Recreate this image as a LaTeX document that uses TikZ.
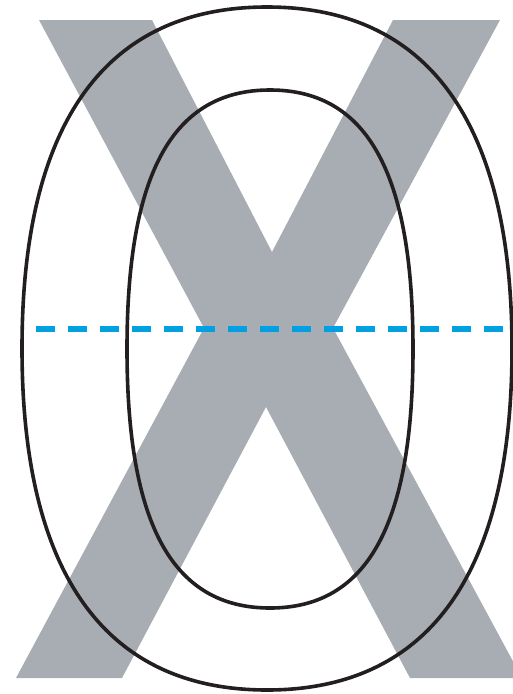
\documentclass[tikz,border=0pt]{standalone}
\usepackage{tikz}
\usepackage{xcolor}

\definecolor{xgray}{HTML}{A7ADB3}
\definecolor{oblack}{HTML}{231F20}
\definecolor{midblue}{HTML}{00A0E3}

\begin{document}
\begin{tikzpicture}[x=1pt, y=-1pt,
    ring/.style = {draw=oblack, line width=3.6pt},
    midline/.style = {draw=midblue, line width=6pt, dash pattern=on 19pt off 13pt}]

        \useasboundingbox (0,0) rectangle (513,694);
        \clip (0,0) rectangle (513,694);

        % the letter X
        \fill[xgray] (39,20) -- (152,20) -- (272,252) -- (393,20) -- (500,20) -- (333,328)
            -- (522,678) -- (410,678) -- (266,407) -- (122,678) -- (16,678) -- (204,328) -- cycle;

        % outer contour of the O
        \draw[ring] (512,348.5) .. controls (512,123.1) and (428.7,7) .. (267,7)
            .. controls (105.3,7) and (22,123.1) .. (22,348.5)
            .. controls (22,573.9) and (105.3,690) .. (267,690)
            .. controls (428.7,690) and (512,573.9) .. (512,348.5) -- cycle;

        % inner contour of the O
        \draw[ring] (413,349) .. controls (413,172.9) and (367.2,90) .. (270,90)
            .. controls (172.8,90) and (127,172.9) .. (127,349)
            .. controls (127,525.1) and (172.8,608) .. (270,608)
            .. controls (367.2,608) and (413,525.1) .. (413,349) -- cycle;

        % middle line
        \coordinate (midL) at (36,328.5);
        \coordinate (midR) at (506,328.5);
        \draw[midline] (midL) -- (midR);

\end{tikzpicture}
\end{document}
